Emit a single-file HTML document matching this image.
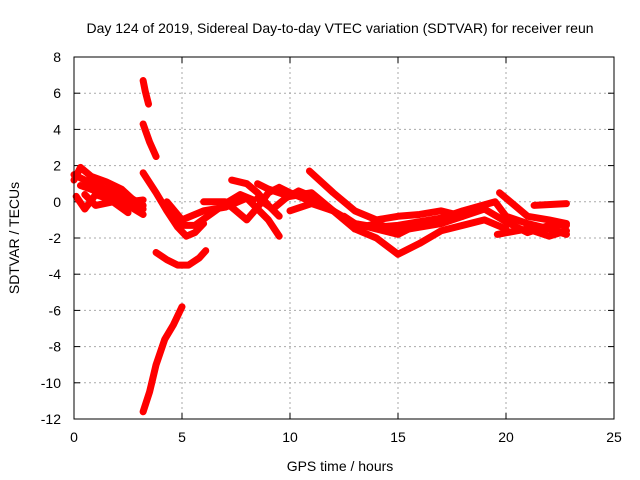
<!DOCTYPE html>
<html><head><meta charset="utf-8"><style>
body{margin:0;background:#fff}
svg{display:block;font-family:"Liberation Sans",sans-serif}
</style></head><body>
<svg id="chart" width="640" height="480">
<rect x="0" y="0" width="640" height="480" fill="#fff"/>
<text x="340" y="33" text-anchor="middle" font-size="14">Day 124 of 2019, Sidereal Day-to-day VTEC variation (SDTVAR) for receiver reun</text>
<g id="grid"></g><g id="ticks"></g><g id="series"></g>
<rect x="74" y="57" width="540" height="362" fill="none" stroke="#000"/>
<text x="340" y="471" text-anchor="middle" font-size="14">GPS time / hours</text>
<text transform="translate(19,238) rotate(-90)" text-anchor="middle" font-size="14">SDTVAR / TECUs</text>
</svg>
<script>
const xTicks=[0,5,10,15,20,25];
const yTicks=[8,6,4,2,0,-2,-4,-6,-8,-10,-12];
const track1=[[3.2,6.7],[3.3,6.1],[3.45,5.4]];
const track2=[[3.2,4.3],[3.5,3.3],[3.8,2.5]];
const track3=[[3.2,1.6],[3.8,0.5],[4.3,-0.5],[4.8,-1.4],[5.2,-1.9],[5.6,-1.7],[6,-1.2]];
const track4=[[3.8,-2.8],[4.3,-3.2],[4.8,-3.5],[5.3,-3.5],[5.8,-3.1],[6.1,-2.7]];
const track5=[[3.2,-11.6],[3.5,-10.5],[3.8,-9],[4.2,-7.6],[4.6,-6.8],[5,-5.8]];
const track6=[[0,1.2],[0.3,1.9],[0.8,1.4],[1.5,1.1],[2.2,0.7],[3.2,-0.4]];
const track7=[[0,1.5],[0.5,1.2],[1.5,0.7],[2.5,0.3],[3.2,-0.2]];
const track8=[[0.1,0.3],[0.5,-0.4],[1,0.4],[1.5,0.2],[2.5,-0.2],[3.2,-0.7]];
const track9=[[0.3,0.9],[1,0.6],[1.8,0.2],[2.5,0],[3.2,0.1]];
const track9b=[[0.5,0.4],[1,-0.2],[1.8,0],[2.5,-0.6]];
const track10=[[4.3,0],[5,-1],[6,-0.5],[7,-0.3],[8,0.2],[9,-1],[9.5,-1.9]];
const track10b=[[4.5,-0.3],[5,-1.3],[5.6,-1.3],[6.3,-0.7],[7,-0.1],[7.7,0.4],[8.3,0.1]];
const track11=[[6,0],[7,0],[7.5,-0.5],[8,-1],[8.5,-0.3],[9,0.5],[9.5,0.8],[10,0.5],[11,0],[12,-0.5],[13,-1.2],[14,-1.5],[15,-1.8],[16,-1.2]];
const track12=[[7.3,1.2],[8,1],[8.5,0.5],[9,-0.2],[9.5,-0.8]];
const track13=[[8.5,1],[9,0.7],[10,0.3],[11,0.5],[12,-0.5]];
const track13b=[[8.5,0.2],[9.2,-0.4],[9.8,0.2],[10.4,0.6],[11,0.3]];
const track14=[[10.9,1.7],[12,0.5],[13,-0.5],[14,-1],[15,-0.8],[16,-0.7],[17,-0.5],[18,-0.8]];
const track15=[[10,-0.5],[11,-0.1],[12,-0.5],[13,-1.5],[14,-2],[15,-2.9],[16,-2.3],[17,-1.6],[18,-1.3],[19,-1],[20,-1.5]];
const track16=[[12.5,-0.8],[13,-1.2],[14,-1.4],[15,-1.3],[17,-0.9],[18,-0.5],[19.5,0],[20,-0.8],[21,-1.2],[22,-1.5],[22.8,-1.8]];
const track16b=[[13,-1.5],[14,-1.2],[15,-1.6],[16,-1.4],[17,-1.2],[18,-0.8],[19,-0.4],[20,-1.1],[21,-1.7],[22,-1.3],[22.8,-1.3]];
const track17=[[19.7,0.5],[20.5,-0.3],[21,-0.8],[22,-1],[22.8,-1.2]];
const track18=[[19.6,-1.8],[20.5,-1.6],[21,-1.5],[22,-1.9],[22.8,-1.6]];
const track19=[[21.3,-0.2],[22.8,-0.1]];
const tracks=[track1,track2,track3,track4,track5,track6,track7,track8,track9,track9b,track10,track10b,track11,track12,track13,track13b,track14,track15,track16,track16b,track17,track18,track19];
const NS="http://www.w3.org/2000/svg";
const X0=74,X1=614,Y0=419,Y1=57;
function sx(v){return X0+(v-0)/(25-0)*(X1-X0);}
function sy(v){return Y0-(v+12)/(8+12)*(Y0-Y1);}
const grid=document.getElementById('grid'),ticks=document.getElementById('ticks'),ser=document.getElementById('series');
function mk(tag,attrs,parent){const e=document.createElementNS(NS,tag);for(const k in attrs)e.setAttribute(k,attrs[k]);parent.appendChild(e);return e;}
xTicks.forEach(t=>{
  const x=sx(t);
  if(t>0&&t<25){const g=mk('line',{x1:x,x2:x,y1:Y1,y2:Y0,stroke:'#aaa','stroke-dasharray':'2,3'},grid);
  
  }
  mk('line',{x1:x,x2:x,y1:Y0,y2:Y0-6,stroke:'#000'},ticks);
  mk('line',{x1:x,x2:x,y1:Y1,y2:Y1+6,stroke:'#000'},ticks);
  const l=mk('text',{x:x,y:Y0+23,'text-anchor':'middle','font-size':14},ticks);l.textContent=t;
  
  
});
yTicks.forEach(t=>{
  const y=sy(t);
  if(t>-12&&t<8){const g=mk('line',{x1:X0,x2:X1,y1:y,y2:y,stroke:'#aaa','stroke-dasharray':'2,3'},grid);
  
  }
  mk('line',{x1:X0,x2:X0+6,y1:y,y2:y,stroke:'#000'},ticks);
  mk('line',{x1:X1,x2:X1-6,y1:y,y2:y,stroke:'#000'},ticks);
  const l=mk('text',{x:X0-13,y:y+5,'text-anchor':'end','font-size':14},ticks);l.textContent=t;
  
  
});
tracks.forEach((tr)=>{
  const p=mk('polyline',{points:tr.map(d=>sx(d[0])+','+sy(d[1])).join(' '),fill:'none',stroke:'#f00','stroke-width':7,'stroke-linejoin':'round','stroke-linecap':'round'},ser);
  
  
});
</script>
</body></html>
